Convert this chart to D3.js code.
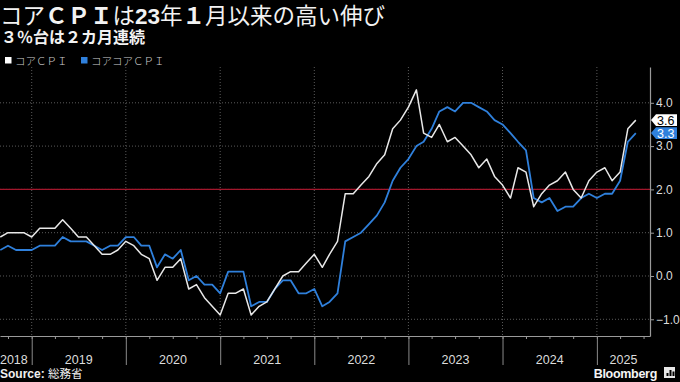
<!DOCTYPE html>
<html><head><meta charset="utf-8">
<script src="https://cdn.jsdelivr.net/npm/d3@7"></script>
<style>
html,body{margin:0;padding:0;background:#000;}
svg{display:block;}
</style></head>
<body>
<svg id="chart" width="680" height="382"></svg>
<script>
// ---- data (Tokyo CPI y/y %, monthly, Aug 2018 – May 2025) ----
const startYear = 2018, startMonth = 7; // Aug 2018 (0-based month)
const coreCPI = [
  0.9, 1.0, 1.0, 1.0, 0.9,
  1.1, 1.1, 1.1, 1.3, 1.1, 0.9, 0.9, 0.7, 0.5, 0.5, 0.6, 0.8,
  0.7, 0.5, 0.4, -0.1, 0.2, 0.2, 0.4, -0.3, -0.2, -0.5, -0.7, -0.9,
  -0.4, -0.4, -0.3, -0.9, -0.7, -0.6, -0.3, 0.0, 0.1, 0.1, 0.3, 0.5,
  0.2, 0.5, 0.8, 1.9, 1.9, 2.1, 2.3, 2.6, 2.8, 3.4, 3.6, 3.9,
  4.3, 3.3, 3.2, 3.5, 3.1, 3.2, 3.0, 2.8, 2.5, 2.7, 2.3, 2.1,
  1.8, 2.5, 2.4, 1.6, 1.9, 2.1, 2.2, 2.4, 2.0, 1.8, 2.2, 2.4,
  2.5, 2.2, 2.4, 3.4, 3.6
];
const coreCoreCPI = [
  0.6, 0.7, 0.6, 0.6, 0.6,
  0.7, 0.7, 0.7, 0.9, 0.8, 0.8, 0.8, 0.7, 0.6, 0.7, 0.7, 0.9,
  0.9, 0.7, 0.7, 0.2, 0.5, 0.4, 0.6, -0.1, 0.0, -0.2, -0.2, -0.4,
  0.1, 0.1, 0.1, -0.7, -0.6, -0.6, -0.3, -0.1, -0.1, -0.4, -0.4, -0.3,
  -0.7, -0.6, -0.4, 0.8, 0.9, 1.0, 1.2, 1.4, 1.7, 2.2, 2.5, 2.7,
  3.0, 3.1, 3.4, 3.8, 3.9, 3.8, 4.0, 4.0, 3.9, 3.8, 3.6, 3.5,
  3.3, 3.1, 2.9, 1.8, 1.7, 1.8, 1.5, 1.6, 1.6, 1.8, 1.9, 1.8,
  1.9, 1.9, 2.2, 3.1, 3.3
];
const seriesNames = ["コアＣＰＩ", "コアコアＣＰＩ"];
const yTicks = [-1, 0, 1, 2, 3, 4];
const years = [2018, 2019, 2020, 2021, 2022, 2023, 2024, 2025];
const targetLine = 2.0;

// ---- layout ----
const svg = d3.select("#chart");
const W = 680, H = 382;
const plotL = 0, plotR = 650, plotT = 67, plotB = 336;
const colWhite = "#e8e8e8", colBlue = "#2f80dc", colRed = "#a3172c";
const grid = "#5a5a5a", txt = "#dcdcdc";

svg.append("rect").attr("width", W).attr("height", H).attr("fill", "#000");

// month data plotted at end of month (= first day of next month)
const dateOf = i => new Date(Date.UTC(startYear, startMonth + i + 1, 1));

const x = d3.scaleUtc()
  .domain([new Date(Date.UTC(2018, 7, 31)), new Date(Date.UTC(2025, 6, 26))])
  .range([plotL, plotR]);
const y = d3.scaleLinear().domain([-1.386, 4.827]).range([plotB, plotT]);

// horizontal gridlines
svg.append("g").selectAll("line").data(yTicks).join("line")
  .attr("x1", plotL).attr("x2", plotR)
  .attr("y1", d => y(d)).attr("y2", d => y(d))
  .attr("stroke", grid).attr("stroke-width", 1).attr("stroke-dasharray", "1,2");

// vertical year gridlines
const yearDates = years.slice(1).map(yr => new Date(Date.UTC(yr, 0, 1)));
svg.append("g").selectAll("line").data(yearDates).join("line")
  .attr("x1", d => x(d)).attr("x2", d => x(d))
  .attr("y1", plotT).attr("y2", plotB)
  .attr("stroke", grid).attr("stroke-width", 1).attr("stroke-dasharray", "1,2");

// red reference line at 2%
svg.append("line")
  .attr("x1", plotL).attr("x2", plotR)
  .attr("y1", y(targetLine)).attr("y2", y(targetLine))
  .attr("stroke", colRed).attr("stroke-width", 1.2);

// x axis: baseline + quarter ticks + year dividers
const xAxisQ = d3.axisBottom(x)
  .ticks(d3.utcMonth.every(3)).tickSize(3).tickSizeOuter(0).tickFormat("");
const gq = svg.append("g").attr("transform", `translate(0,${plotB})`).call(xAxisQ);
gq.select(".domain").attr("stroke", "#9a9a9a").attr("stroke-width", 1.2);
gq.selectAll(".tick line").attr("stroke", "#9a9a9a");

const xAxisY = d3.axisBottom(x)
  .tickValues(yearDates).tickSize(29).tickSizeOuter(0).tickFormat("");
const gy = svg.append("g").attr("transform", `translate(0,${plotB})`).call(xAxisY);
gy.select(".domain").remove();
gy.selectAll(".tick line").attr("stroke", "#8a8a8a");

// year labels centred in their visible span
svg.append("g").selectAll("text").data(years).join("text")
  .attr("x", yr => {
    const a = Math.max(plotL, x(new Date(Date.UTC(yr, 0, 1))));
    const b = Math.min(plotR, x(new Date(Date.UTC(yr + 1, 0, 1))));
    return (a + b) / 2 - (yr === 2018 ? 2 : 0);
  })
  .attr("y", 364)
  .attr("text-anchor", "middle")
  .attr("font-family", "'Liberation Sans', Arial, sans-serif")
  .attr("font-size", 12.5)
  .attr("fill", txt)
  .text(d => d);

// right y axis
const yAxis = d3.axisRight(y).tickValues(yTicks).tickFormat(d3.format(".1f"))
  .tickSize(4).tickSizeOuter(0).tickPadding(2);
const ga = svg.append("g").attr("transform", `translate(${plotR},0)`).call(yAxis);
ga.select(".domain").attr("stroke", "#9a9a9a").attr("stroke-width", 1.2);
ga.selectAll(".tick line").attr("stroke", "#9a9a9a");
ga.selectAll(".tick text").attr("fill", txt)
  .attr("font-family", "'Liberation Sans', Arial, sans-serif").attr("font-size", 12);

// lines
const line = d3.line().x((d, i) => x(dateOf(i))).y(d => y(d));
svg.append("path").datum(coreCoreCPI).attr("d", line)
  .attr("fill", "none").attr("stroke", colBlue).attr("stroke-width", 1.8)
  .attr("stroke-linejoin", "round");
svg.append("path").datum(coreCPI).attr("d", line)
  .attr("fill", "none").attr("stroke", colWhite).attr("stroke-width", 1.5)
  .attr("stroke-linejoin", "round");

// end-value labels
function valueLabel(v, fill, textFill) {
  const yy = y(v), x0 = plotR + 1, h = 5.8;
  svg.append("path")
    .attr("d", `M${x0},${yy} L${x0 + 5},${yy - h} L${x0 + 26},${yy - h} L${x0 + 26},${yy + h} L${x0 + 5},${yy + h} Z`)
    .attr("fill", fill);
  svg.append("text").attr("x", x0 + 6).attr("y", yy + 4.4)
    .attr("font-family", "'Liberation Sans', Arial, sans-serif").attr("font-size", 12.5)
    .attr("fill", textFill).text(d3.format(".1f")(v));
}
valueLabel(coreCPI[coreCPI.length - 1], "#ffffff", "#000");
valueLabel(coreCoreCPI[coreCoreCPI.length - 1], colBlue, "#fff");

// title
const jp = "'Noto Sans CJK JP', 'Noto Sans', sans-serif";
const hd = "'Liberation Sans', 'Noto Sans CJK JP', sans-serif";
const title = svg.append("text").attr("x", 0).attr("y", 24)
  .attr("font-family", hd).attr("font-size", 22.5).attr("fill", "#f2f2f2");
[["コア", 400], ["ＣＰＩ", 700], ["は", 400], ["23", 700], ["年", 400], ["１", 700], ["月以来の高い伸び", 400]]
  .forEach(([t, w]) => title.append("tspan").attr("font-weight", w).text(t));

svg.append("text").attr("x", 1).attr("y", 43)
  .attr("font-family", hd).attr("font-size", 16).attr("font-weight", 700)
  .attr("fill", "#f2f2f2").text("３％台は２カ月連続");

// legend
const legendItems = [
  { name: seriesNames[0], color: "#ffffff", x: 5 },
  { name: seriesNames[1], color: colBlue, x: 81 }
];
const lg = svg.append("g");
lg.selectAll("rect").data(legendItems).join("rect")
  .attr("x", d => d.x).attr("y", 57).attr("width", 6.5).attr("height", 6.5)
  .attr("fill", d => d.color);
lg.selectAll("text").data(legendItems).join("text")
  .attr("x", d => d.x + 10).attr("y", 64.5)
  .attr("font-family", jp).attr("font-size", 10.5).attr("font-weight", 300)
  .attr("fill", "#cfcfcf").text(d => d.name);

// source
const src = svg.append("text").attr("x", 0).attr("y", 378)
  .attr("font-family", "'Liberation Sans', Arial, sans-serif").attr("font-size", 12)
  .attr("fill", "#f0f0f0");
src.append("tspan").attr("font-weight", 700).text("Source: ");
src.append("tspan").attr("font-family", jp).attr("font-size", 11.5).text("総務省");

// Bloomberg mark
svg.append("text").attr("x", 657).attr("y", 378).attr("text-anchor", "end")
  .attr("font-family", "'Liberation Sans', Arial, sans-serif").attr("font-size", 12.5)
  .attr("font-weight", 700).attr("letter-spacing", -0.3).attr("fill", "#f5f5f5").text("Bloomberg");
svg.append("rect").attr("x", 664).attr("y", 367).attr("width", 11).attr("height", 11)
  .attr("fill", "#e8e8e8");
[[666.5, 373, 2], [669.5, 370, 2], [672.5, 371.5, 2]].forEach(([bx, by, bw]) =>
  svg.append("rect").attr("x", bx).attr("y", by).attr("width", bw).attr("height", 376 - by).attr("fill", "#000"));
</script>
</body></html>
